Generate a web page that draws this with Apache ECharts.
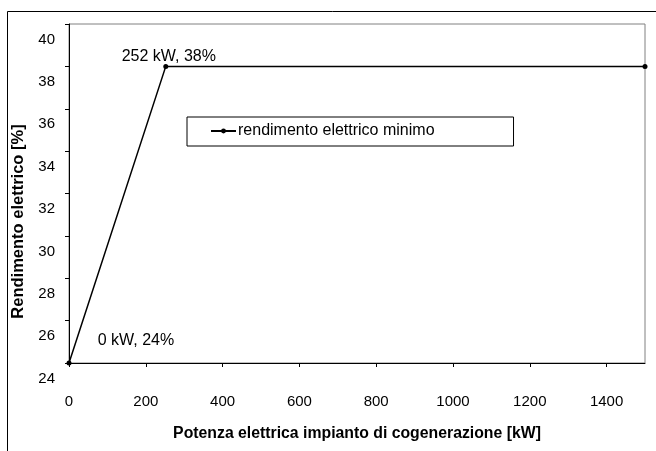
<!DOCTYPE html>
<html>
<head>
<meta charset="utf-8">
<script src="https://cdn.jsdelivr.net/npm/echarts@6/dist/echarts.min.js"></script>
<style>
  html, body { margin: 0; padding: 0; background: #fff; }
  #container { width: 656px; height: 451px; }
</style>
</head>
<body>
<div id="container"></div>
<script>
// dati
var potenza = [0, 252, 1500];
var rendimento = [24, 38, 38];
var etichette = ['0 kW, 24%', '252 kW, 38%', ''];
var nomeSerie = 'rendimento elettrico minimo';
var titoloX = 'Potenza elettrica impianto di cogenerazione [kW]';
var titoloY = 'Rendimento elettrico [%]';

function graficoRendimento(){
    var dom = document.getElementById("container");
    var myChart = echarts.init(dom);
    var font = 'Liberation Sans, Arial, sans-serif';

    // posizione delle etichette come nel grafico originale
    var offsets = [[67, -22], [3, -10], [0, 0]];
    var dati = potenza.map(function (p, i) {
        return {
            value: [p, rendimento[i]],
            label: {
                show: etichette[i] !== '',
                formatter: etichette[i],
                position: 'inside',
                offset: offsets[i]
            }
        };
    });

    var option = {
        animation: false,
        textStyle: { fontFamily: font },
        graphic: [{
            type: 'rect',
            shape: { x: 7.5, y: 11.5, width: 700, height: 500 },
            style: { fill: 'none', stroke: '#000', lineWidth: 1 },
            silent: true
        }],
        grid: {
            left: 69, top: 24, right: 11, bottom: 88,
            show: true, borderColor: '#808080', borderWidth: 1,
            backgroundColor: '#fff'
        },
        legend: {
            left: 187, top: 117,
            padding: [6, 79, 7, 23],
            borderColor: '#000', borderWidth: 1,
            itemWidth: 25, itemHeight: 6,
            textStyle: { fontFamily: font, fontSize: 16, color: '#000', padding: [0, 0, 0, -3] },
            data: [nomeSerie]
        },
        xAxis: {
            type: 'value',
            min: 0, max: 1500, interval: 200,
            name: titoloX,
            nameLocation: 'middle',
            nameGap: 63,
            nameTextStyle: { fontFamily: font, fontSize: 15.8, fontWeight: 'bold', color: '#000' },
            axisLine: { show: true, lineStyle: { color: '#000', width: 1 } },
            axisTick: { show: true, length: 4, lineStyle: { color: '#000' } },
            axisLabel: {
                margin: 31, fontFamily: font, fontSize: 15, color: '#000', showMaxLabel: false,
                formatter: function (v) { return String(v); }
            },
            splitLine: { show: false }
        },
        yAxis: {
            type: 'value',
            min: 24, max: 40, interval: 2,
            name: titoloY,
            nameLocation: 'middle',
            nameGap: 38,
            nameTextStyle: {
                fontFamily: font, fontSize: 16.5, fontWeight: 'bold', color: '#000',
                padding: [0, 56, 0, 0]
            },
            axisLine: { show: true, lineStyle: { color: '#000', width: 1 } },
            axisTick: { show: true, length: 4, lineStyle: { color: '#000' } },
            axisLabel: {
                margin: 14, fontFamily: font, fontSize: 15, color: '#000',
                verticalAlign: 'top', padding: [8, 0, 0, 0],
                showMinLabel: true, showMaxLabel: true
            },
            splitLine: { show: false }
        },
        series: [{
            name: nomeSerie,
            type: 'line',
            data: dati,
            symbol: 'circle',
            symbolSize: 5,
            itemStyle: { color: '#000' },
            lineStyle: { color: '#000', width: 1.5 },
            label: { fontFamily: font, fontSize: 16, color: '#000' },
            clip: false
        }]
    };

    if (option && typeof option === 'object') {
        myChart.setOption(option);
    }
}
graficoRendimento();
</script>
</body>
</html>
